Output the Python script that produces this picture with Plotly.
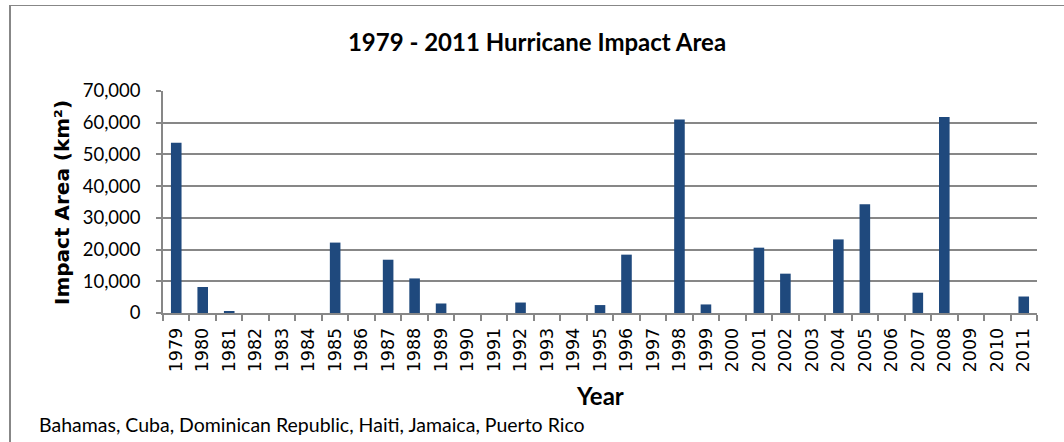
import plotly.graph_objects as go

years = [str(y) for y in range(1979, 2012)]
impact_area = [53700, 8200, 400, 0, 0, 0, 22200, 0, 16800, 10900, 3000, 0, 0, 3300, 0, 0,
               2500, 18400, 0, 61000, 2700, 0, 20600, 12400, 0, 23200, 34300, 0, 6400, 61800,
               0, 0, 5200]
y_ticks = [0, 10000, 20000, 30000, 40000, 50000, 60000, 70000]

title_text = "1979 - 2011 Hurricane Impact Area"
x_title = "Year"
y_title = "Impact Area (km²)"
footer = "Bahamas, Cuba, Dominican Republic, Haiti, Jamaica, Puerto Rico"

W, H = 1064, 442
L, R, T, B = 163, 1037, 91, 313
pw, ph = R - L, B - T

def px(x):
    return (x - L) / pw

def py(y):
    return (B - y) / ph

grid = "#878787"

fig = go.Figure(go.Bar(x=years, y=impact_area, marker=dict(color="#1f497d", line=dict(width=0))))

fig.update_layout(
    width=W, height=H,
    margin=dict(l=L, r=W - R, t=T, b=H - B, pad=0),
    paper_bgcolor="white", plot_bgcolor="white",
    bargap=0.6,
    showlegend=False,
    title=dict(text=title_text, x=537 / W, xref="container", xanchor="center",
               y=1 - 43 / H, yref="container", yanchor="middle",
               font=dict(family="Lato", size=24, color="black", weight="bold")),
    xaxis=dict(type="category", tickangle=-90, tickson="boundaries", ticks="outside",
               ticklen=6, tickcolor=grid, tickwidth=1.5, showline=True, linecolor=grid,
               linewidth=1.5, showgrid=False,
               tickfont=dict(family="DejaVu Sans", size=17.5, color="black"),
               ticklabelstandoff=6),
    yaxis=dict(range=[0, 70000], tickvals=y_ticks, tickformat=",", ticks="outside",
               ticklen=5, tickcolor=grid, tickwidth=1.5, showline=True, linecolor=grid,
               linewidth=1.5, showgrid=True, gridcolor=grid, gridwidth=1.5,
               zeroline=False,
               tickfont=dict(family="Lato", size=18.5, color="black"),
               ticklabelstandoff=12),
    annotations=[
        dict(text=y_title, xref="paper", yref="paper", x=px(62), y=py(203),
             textangle=-90, showarrow=False, xanchor="center", yanchor="middle",
             font=dict(family="DejaVu Sans", size=20, color="black", weight="bold")),
        dict(text=x_title, xref="paper", yref="paper", x=px(600), y=py(395),
             showarrow=False, xanchor="center", yanchor="middle",
             font=dict(family="Lato", size=24, color="black", weight="bold")),
        dict(text=footer, xref="paper", yref="paper", x=px(37), y=py(424),
             showarrow=False, xanchor="left", yanchor="middle",
             font=dict(family="Lato", size=19.5, color="black")),
    ],
    shapes=[
        dict(type="line", xref="paper", yref="paper", x0=px(10), x1=px(10),
             y0=py(5.5), y1=py(460), line=dict(color=grid, width=2)),
        dict(type="line", xref="paper", yref="paper", x0=px(9), x1=px(1080),
             y0=py(5.5), y1=py(5.5), line=dict(color=grid, width=1)),
    ],
)

fig.write_html("out.html")
